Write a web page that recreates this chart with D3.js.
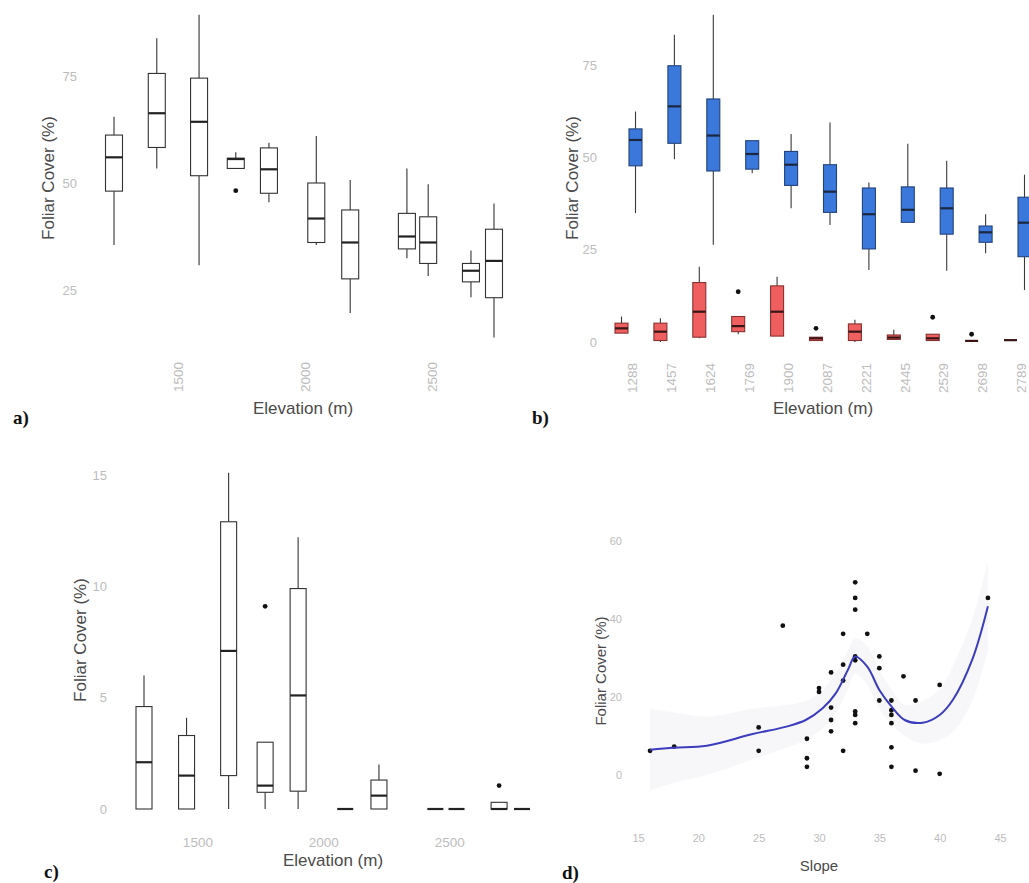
<!DOCTYPE html>
<html>
<head>
<meta charset="utf-8">
<script src="https://cdn.jsdelivr.net/npm/d3@7"></script>
<style>
  html, body { margin: 0; padding: 0; background: #fff; }
  svg { display: block; font-family: "Liberation Sans", Arial, sans-serif; }
</style>
</head>
<body>
<svg id="chart" width="1029" height="883"></svg>
<script>
// ---------- DATA ----------
const elevations = [1288, 1457, 1624, 1769, 1900, 2087, 2221, 2445, 2529, 2698, 2789];
const elevationLabels = ["1288", "1457", "1624", "1769", "1900", "2087", "2221", "2445", "2529", "2698", "2789"];

// panel a: total foliar cover  [low whisker, Q1, median, Q3, high whisker]
const aLow  = [35.5, 53.4, 30.8, 53.4, 45.5, 35.5, 19.6, 32.4, 28.3, 23.3, 13.9];
const aQ1   = [48.1, 58.3, 51.7, 53.4, 47.6, 36.1, 27.6, 34.6, 31.2, 26.9, 23.2];
const aMed  = [56.0, 66.3, 64.3, 55.6, 53.2, 41.7, 36.1, 37.5, 36.1, 29.5, 31.8];
const aQ3   = [61.2, 75.6, 74.5, 55.8, 58.2, 50.0, 43.7, 42.9, 42.1, 31.2, 39.2];
const aHigh = [65.5, 83.8, 89.3, 57.2, 59.4, 61.0, 50.7, 53.4, 49.7, 34.2, 45.2];
const aOutElev = [1769];
const aOutVal  = [48.2];
const aYTicks = [25, 50, 75];
const aXTicks = [1500, 2000, 2500];

// panel b: blue series
const bBlueLow  = [34.9, 49.5, 26.3, 45.7, 36.2, 31.7, 19.5, 32.4, 19.3, 24.0, 14.1];
const bBlueQ1   = [47.7, 53.8, 46.3, 46.8, 42.4, 35.1, 25.2, 32.4, 29.2, 27.0, 23.1];
const bBlueMed  = [54.7, 63.8, 55.9, 50.9, 48.0, 40.7, 34.6, 35.8, 36.2, 29.7, 32.3];
const bBlueQ3   = [57.7, 74.8, 65.8, 54.5, 51.6, 48.0, 41.7, 42.0, 41.7, 31.4, 39.2];
const bBlueHigh = [62.4, 83.2, 88.6, 54.5, 56.3, 59.4, 43.2, 53.7, 49.1, 34.6, 45.3];
// panel b: red series
const bRedLow  = [2.4, 0.0, 1.0, 2.1, 1.6, 0.4, 0.0, 0.7, 0.4, 0.3, 0.5];
const bRedQ1   = [2.4, 0.4, 1.3, 2.8, 1.6, 0.4, 0.4, 0.7, 0.4, 0.3, 0.5];
const bRedMed  = [3.7, 2.8, 8.2, 4.3, 8.2, 1.0, 2.8, 1.2, 1.0, 0.3, 0.5];
const bRedQ3   = [5.1, 5.1, 16.1, 6.9, 15.2, 1.3, 4.9, 1.9, 2.1, 0.3, 0.5];
const bRedHigh = [6.9, 6.4, 20.4, 6.9, 17.7, 1.3, 6.0, 3.3, 2.1, 0.3, 0.5];
const bRedOutCat = ["1769", "2087", "2529", "2698"];
const bRedOutVal = [13.6, 3.7, 6.7, 2.1];
const bYTicks = [0, 25, 50, 75];

// panel c
const cLow  = [0, 0, 0, 0, 0, 0, 0, 0, 0, 0, 0];
const cQ1   = [0, 0, 1.5, 0.75, 0.8, 0, 0, 0, 0, 0, 0];
const cMed  = [2.1, 1.5, 7.1, 1.05, 5.1, 0, 0.6, 0, 0, 0, 0];
const cQ3   = [4.6, 3.3, 12.9, 3.0, 9.9, 0, 1.3, 0, 0, 0.3, 0];
const cHigh = [6.0, 4.1, 15.1, 3.0, 12.2, 0, 2.0, 0, 0, 0.3, 0];
const cOutElev = [1769, 2698];
const cOutVal  = [9.1, 1.05];
const cYTicks = [0, 5, 10, 15];
const cXTicks = [1500, 2000, 2500];

// panel d: scatter + smooth
const dSlope = [16, 18, 25, 25, 27, 29, 29, 29, 30, 30, 31, 31, 31, 31, 32, 32, 32, 32,
                33, 33, 33, 33, 33, 33, 33, 33, 34, 35, 35, 35, 36, 36, 36, 36, 36, 36,
                37, 38, 38, 40, 40, 44];
const dCover = [6.2, 7.3, 12.2, 6.2, 38.3, 9.3, 4.3, 2.1, 22.3, 21.3, 26.3, 17.3, 14.1, 11.2,
                36.2, 28.3, 24.2, 6.2, 49.4, 45.4, 42.4, 30.4, 29.4, 16.3, 15.4, 13.3, 36.2,
                30.4, 27.4, 19.1, 19.1, 16.6, 15.4, 13.3, 7.1, 2.1, 25.3, 19.1, 1.1, 23.1, 0.3, 45.4];
const dFitX   = [16, 18, 20.7, 24.5, 27.3, 28.9, 30.3, 31.4, 32.4, 33, 34, 35, 36, 37.1, 38.6, 40, 41.1, 42.7, 44];
const dFitY   = [6.5, 7, 7.5, 10.5, 12.4, 14.1, 17.1, 21, 27, 30.4, 27.8, 21.8, 17.6, 14.1, 13.4, 15.4, 19.3, 29.6, 43.3];
const dFitLow = [-4, -2, 0, 4, 7, 9, 12, 16, 22, 26, 23, 17, 13, 10, 8, 9, 11, 19, 32];
const dFitUp  = [17, 16, 15, 17, 18, 19, 22, 26, 32, 35, 33, 27, 22, 18, 19, 22, 28, 40, 55];
const dXTicks = [15, 20, 25, 30, 35, 40, 45];
const dYTicks = [0, 20, 40, 60];

// ---------- STYLE ----------
const tickColor = "#bcbcbc";
const titleColor = "#4a4a4a";
const fmt = d3.format("d");
const svg = d3.select("#chart");

function yAxis(scale, ticks, xPos, size) {
  const g = svg.append("g").attr("transform", `translate(${xPos},0)`)
    .call(d3.axisLeft(scale).tickValues(ticks).tickFormat(fmt).tickSize(0).tickPadding(0));
  g.select(".domain").remove();
  g.selectAll("text").attr("fill", tickColor).attr("font-size", size)
    .attr("font-family", "Liberation Sans, Arial, sans-serif");
  return g;
}
function xAxisFlat(scale, ticks, yPos, size) {
  const g = svg.append("g").attr("transform", `translate(0,${yPos})`)
    .call(d3.axisBottom(scale).tickValues(ticks).tickFormat(fmt).tickSize(0).tickPadding(0));
  g.select(".domain").remove();
  g.selectAll("text").attr("y", 0).attr("dy", "0.35em").attr("fill", tickColor)
    .attr("font-size", size).attr("font-family", "Liberation Sans, Arial, sans-serif");
  return g;
}
function xAxisRot(axisGen, yPos, shift, size) {
  const g = svg.append("g").attr("transform", `translate(0,${yPos})`).call(axisGen);
  g.select(".domain").remove();
  g.selectAll("text").attr("x", 0).attr("y", shift).attr("dy", "0.35em")
    .attr("text-anchor", "end").attr("transform", "rotate(-90)")
    .attr("fill", tickColor).attr("font-size", size)
    .attr("font-family", "Liberation Sans, Arial, sans-serif");
  return g;
}
function title(txt, x, y, size, rot) {
  svg.append("text").attr("x", rot ? 0 : x).attr("y", rot ? 0 : y)
    .attr("transform", rot ? `translate(${x},${y}) rotate(-90)` : null)
    .attr("text-anchor", "middle").attr("dominant-baseline", "central")
    .attr("fill", titleColor).attr("font-size", size).text(txt);
}
function letter(txt, x, y) {
  svg.append("text").attr("x", x).attr("y", y)
    .attr("font-family", "Liberation Serif, Times New Roman, serif")
    .attr("font-weight", "bold").attr("font-size", 19).attr("fill", "#111").text(txt);
}
function box(g, cx, w, y, lo, q1, med, q3, hi, st) {
  g.append("line").attr("x1", cx).attr("x2", cx).attr("y1", y(hi)).attr("y2", y(q3))
    .attr("stroke", st.whisker).attr("stroke-width", 1.1);
  g.append("line").attr("x1", cx).attr("x2", cx).attr("y1", y(q1)).attr("y2", y(lo))
    .attr("stroke", st.whisker).attr("stroke-width", 1.1);
  g.append("rect").attr("x", cx - w / 2).attr("width", w)
    .attr("y", y(q3)).attr("height", Math.max(0, y(q1) - y(q3)))
    .attr("fill", st.fill).attr("stroke", st.stroke).attr("stroke-width", 1.1);
  g.append("line").attr("x1", cx - w / 2).attr("x2", cx + w / 2).attr("y1", y(med)).attr("y2", y(med))
    .attr("stroke", st.median).attr("stroke-width", 2.2);
}

// ---------- PANEL A ----------
{
  const x = d3.scaleLinear().domain([1288, 2789]).range([114, 494]);
  const y = d3.scaleLinear().domain([25, 75]).range([290, 76]);
  const g = svg.append("g");
  const st = { fill: "#fff", stroke: "#333", whisker: "#333", median: "#222" };
  elevations.forEach((e, i) => box(g, x(e), 17, y, aLow[i], aQ1[i], aMed[i], aQ3[i], aHigh[i], st));
  g.selectAll(".out").data(aOutElev).join("circle")
    .attr("cx", d => x(d)).attr("cy", (d, i) => y(aOutVal[i])).attr("r", 2.4).attr("fill", "#111");
  yAxis(y, aYTicks, 77, 13);
  xAxisRot(d3.axisBottom(x).tickValues(aXTicks).tickFormat(fmt).tickSize(0), 362, 10.5, 13.5);
  title("Foliar Cover (%)", 48, 178, 17, true);
  title("Elevation (m)", 303, 408, 17, false);
  letter("a)", 13, 424);
}

// ---------- PANEL B ----------
{
  const x = d3.scalePoint().domain(elevationLabels).range([628.5, 1017.5]);
  const y = d3.scaleLinear().domain([0, 75]).range([342, 65]);
  const g = svg.append("g");
  const blue = { fill: "#3a78dc", stroke: "#23427a", whisker: "#3a3a3a", median: "#1b2740" };
  const red = { fill: "#ef5f5f", stroke: "#873131", whisker: "#3a3a3a", median: "#3a1515" };
  elevationLabels.forEach((c, i) => {
    box(g, x(c) + 7, 13, y, bBlueLow[i], bBlueQ1[i], bBlueMed[i], bBlueQ3[i], bBlueHigh[i], blue);
    box(g, x(c) - 7, 13, y, bRedLow[i], bRedQ1[i], bRedMed[i], bRedQ3[i], bRedHigh[i], red);
  });
  g.selectAll(".out").data(bRedOutCat).join("circle")
    .attr("cx", d => x(d) - 7).attr("cy", (d, i) => y(bRedOutVal[i])).attr("r", 2.4).attr("fill", "#111");
  yAxis(y, bYTicks, 597, 13);
  xAxisRot(d3.axisBottom(x).tickSize(0), 363, 3.5, 13.5);
  title("Foliar Cover (%)", 572, 178, 17, true);
  title("Elevation (m)", 823, 408, 17, false);
  letter("b)", 532, 424);
}

// ---------- PANEL C ----------
{
  const x = d3.scaleLinear().domain([1288, 2789]).range([144, 522]);
  const y = d3.scaleLinear().domain([0, 15]).range([809, 475]);
  const g = svg.append("g");
  const st = { fill: "#fff", stroke: "#333", whisker: "#333", median: "#222" };
  elevations.forEach((e, i) => box(g, x(e), 16, y, cLow[i], cQ1[i], cMed[i], cQ3[i], cHigh[i], st));
  g.selectAll(".out").data(cOutElev).join("circle")
    .attr("cx", d => x(d)).attr("cy", (d, i) => y(cOutVal[i])).attr("r", 2.4).attr("fill", "#111");
  yAxis(y, cYTicks, 107, 13);
  xAxisFlat(x, cXTicks, 842, 13.5);
  title("Foliar Cover (%)", 80, 640, 17, true);
  title("Elevation (m)", 333, 860, 17, false);
  letter("c)", 44, 878);
}

// ---------- PANEL D ----------
{
  const x = d3.scaleLinear().domain([15, 45]).range([638, 1000]);
  const y = d3.scaleLinear().domain([0, 60]).range([775, 541]);
  const g = svg.append("g");
  const band = d3.area().curve(d3.curveCatmullRom)
    .x((d, i) => x(dFitX[i])).y0((d, i) => y(dFitLow[i])).y1((d, i) => y(dFitUp[i]));
  g.append("path").datum(dFitX).attr("d", band).attr("fill", "#f7f7f9");
  const line = d3.line().curve(d3.curveCatmullRom)
    .x((d, i) => x(dFitX[i])).y((d, i) => y(dFitY[i]));
  g.selectAll(".pt").data(dSlope).join("circle")
    .attr("cx", d => x(d)).attr("cy", (d, i) => y(dCover[i])).attr("r", 2.4).attr("fill", "#111");
  g.append("path").datum(dFitX).attr("d", line).attr("fill", "none")
    .attr("stroke", "#3c3cbf").attr("stroke-width", 2);
  yAxis(y, dYTicks, 622, 11);
  xAxisFlat(x, dXTicks, 838, 11);
  title("Foliar Cover (%)", 600, 671, 15, true);
  title("Slope", 819, 865, 15, false);
  letter("d)", 562, 879);
}
</script>
</body>
</html>
